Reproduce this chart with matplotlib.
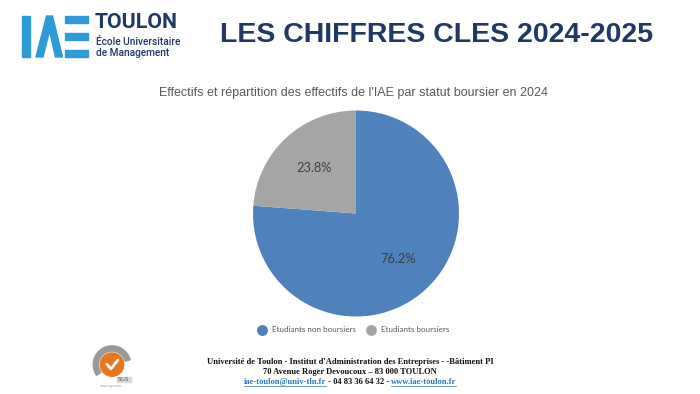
import matplotlib
matplotlib.use("Agg")
import matplotlib.pyplot as plt
import matplotlib.lines as mlines
from matplotlib.patches import Rectangle, Polygon, Circle, Wedge

# ---- data ----
categories = ["Etudiants non boursiers", "Etudiants boursiers"]
shares = [76.2, 23.8]
colors = ["#4F81BD", "#A5A5A5"]
title = "LES CHIFFRES CLES 2024-2025"
subtitle = "Effectifs et répartition des effectifs de l'IAE par statut boursier en 2024"
footer1 = "Université de Toulon - Institut d'Administration des Entreprises - -Bâtiment PI"
footer2 = "70 Avenue Roger Devoucoux – 83 000 TOULON"
footer3 = ["iae-toulon@univ-tln.fr", " - 04 83 36 64 32 - ", "www.iae-toulon.fr"]

W, H = 700, 394
fig = plt.figure(figsize=(W / 100, H / 100), dpi=100)
fig.patch.set_facecolor("white")


def fx(px):
    return px / W


def fy(py):
    return 1 - py / H


# ---- logo (decoration) ----
logo_blue = "#2D9BD8"
fig.patches.append(Rectangle((fx(22), fy(57)), fx(7.5), 41 / H, transform=fig.transFigure,
                             color=logo_blue))
lam = [(36, 57), (46.5, 16), (52.5, 16), (62.5, 57), (55.5, 57), (49.5, 31), (43, 57)]
fig.patches.append(Polygon([(fx(a), fy(b)) for a, b in lam], closed=True,
                           transform=fig.transFigure, color=logo_blue))
for yy in (16, 33, 50):
    fig.patches.append(Rectangle((fx(65), fy(yy + 6.8)), fx(23), 6.8 / H,
                                 transform=fig.transFigure, color=logo_blue))
navy = "#1F3864"
fig.text(fx(95), fy(22.5), "TOULON", fontsize=15.3, fontweight="bold", color=navy,
         family="Roboto", va="center", ha="left")
fig.text(fx(95.5), fy(42), "École Universitaire", fontsize=7.3, fontweight="medium", color=navy,
         family="Roboto", va="center", ha="left")
fig.text(fx(95.5), fy(52.5), "de Management", fontsize=7.3, fontweight="medium", color=navy,
         family="Roboto", va="center", ha="left")

# ---- title ----
fig.text(fx(437), fy(35), title, fontsize=20.5, fontweight="bold", color=navy,
         family="Liberation Sans", ha="center", va="center")
fig.text(fx(353), fy(93), subtitle, fontsize=9, color="#595959",
         family="Liberation Sans", ha="center", va="center")

# ---- pie ----
cx, cy, r = 356, 213.5, 103
ax = fig.add_axes([fx(cx - r), fy(cy + r), 2 * r / W, 2 * r / H])
wedges, texts, autotexts = ax.pie(
    shares, colors=colors, startangle=90, counterclock=False,
    autopct=lambda p: f"{p:.1f}%", pctdistance=0.6,
    textprops=dict(fontsize=9.2, color="#404040", family="Lato"),
    wedgeprops=dict(linewidth=0),
)
ax.set_xlim(-1, 1)
ax.set_ylim(-1, 1)
ax.set_aspect("equal")
ax.axis("off")

# ---- legend ----
handles = [mlines.Line2D([], [], marker="o", linestyle="none", markersize=6.8,
                         markerfacecolor=c, markeredgecolor=c) for c in colors]
leg = fig.legend(handles, categories, loc="center", bbox_to_anchor=(fx(354), fy(330)),
                 ncol=2, frameon=False, handlelength=0.8, columnspacing=1.4,
                 handletextpad=0.9, prop=dict(family="Lato", size=5.8))
for t in leg.get_texts():
    t.set_color("#595959")

# ---- footer ----
serif = "Liberation Serif"
fsz = 6.1
fig.text(fx(350), fy(362), footer1, fontsize=fsz, fontweight="bold", family=serif,
         ha="center", va="center", color="#111111")
fig.text(fx(350), fy(372), footer2, fontsize=fsz, fontweight="bold", family=serif,
         ha="center", va="center", color="#111111")

renderer = fig.canvas.get_renderer()
parts = []
link_col = "#2E75B6"
for i, s in enumerate(footer3):
    col = link_col if i != 1 else "#111111"
    t = fig.text(0, fy(381.5), s, fontsize=fsz, fontweight="bold", family=serif,
                 ha="left", va="center", color=col)
    parts.append((t, i != 1))
widths = [p.get_window_extent(renderer).width for p, _ in parts]
x0 = 350 - sum(widths) / 2
for (p, is_link), w in zip(parts, widths):
    p.set_x(fx(x0))
    if is_link:
        fig.lines.append(plt.Line2D([fx(x0), fx(x0 + w)], [fy(385.5), fy(385.5)],
                                    transform=fig.transFigure, color=link_col, lw=0.5))
    x0 += w

# ---- SGS badge (decoration) ----
bx, by, bs = 112, 366, 44
bax = fig.add_axes([fx(bx - bs / 2), fy(by + bs / 2), bs / W, bs / H])
bax.add_patch(Wedge((0, 0), 1.0, 15, 215, width=0.28, color="#9A9A9A"))
bax.add_patch(Circle((0, 0), 0.62, color="#E8771E"))
bax.plot([-0.28, -0.05, 0.32], [0.02, -0.22, 0.25], color="white", lw=2.0,
         solid_capstyle="round")
bax.add_patch(Rectangle((0.25, -0.95), 0.75, 0.3, color="#D8D8D8"))
bax.text(0.62, -0.8, "SGS", fontsize=4.5, color="#555555", family="Liberation Serif",
         ha="center", va="center")
bax.text(-0.1, -1.12, "www.sgs.com", fontsize=2.5, color="#999999",
         family="Liberation Sans", ha="center", va="center")
bax.set_xlim(-1.1, 1.1)
bax.set_ylim(-1.25, 1.1)
bax.set_aspect("equal")
bax.axis("off")

fig.savefig("out.png", dpi=100, facecolor="white")
